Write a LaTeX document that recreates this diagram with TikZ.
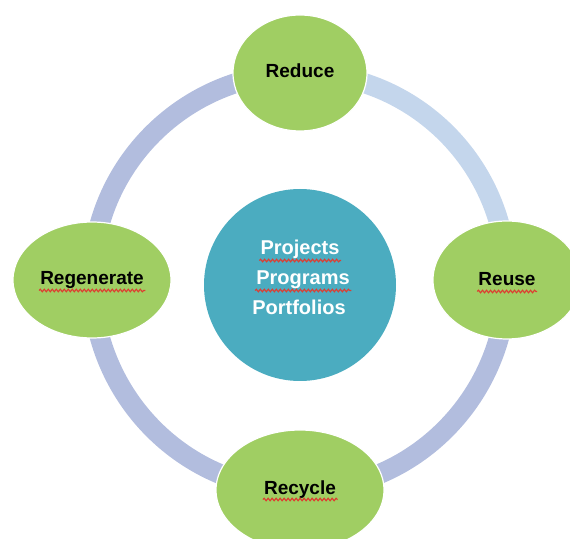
\documentclass[tikz,border=0pt]{standalone}
\usepackage{fontspec}
\setmainfont{Liberation Sans}
\usepackage{tikz}
\usetikzlibrary{shapes}
\usetikzlibrary{backgrounds,decorations.pathmorphing}
\definecolor{leafgreen}{RGB}{160,206,99}
\definecolor{hubteal}{RGB}{75,172,192}
\definecolor{ringpale}{RGB}{196,214,236}
\definecolor{ringblue}{RGB}{178,189,222}
\definecolor{typored}{RGB}{222,60,48}

\tikzset{
	word/.style={inner sep=0pt,anchor=base,font=\fontsize{19}{22}\selectfont\bfseries},
	hubword/.style={word,text=white,font=\fontsize{20}{24}\selectfont\bfseries},
	squiggle/.style={typored,line width=1.1pt,decorate,
	                 decoration={snake,amplitude=1.3pt,segment length=4pt}}
}
% red wavy line under a word node
\newcommand{\flag}[1]{\draw[squiggle] ([xshift=-1pt,yshift=-5.5pt]#1.base west) -- ([xshift=1.5pt,yshift=-5.5pt]#1.base east);}

\begin{document}
\begin{tikzpicture}[x=1pt,y=1pt]
	\useasboundingbox (0,0) rectangle (570,538);

	\begin{scope}[every node/.style={fill=leafgreen,ellipse,draw=white,line width=1.2pt,inner sep=0pt}]
	    \node[minimum width=134,minimum height=116] (reduce) at (300,465) {};
	    \node[minimum width=148,minimum height=118] (reuse) at (507,258) {};
	    \node[minimum width=168,minimum height=120] (recycle) at (300,48) {};
	    \node[minimum width=158,minimum height=116] (regenerate) at (92,258) {};
	\end{scope}
	\node[circle,fill=hubteal,minimum size=192,inner sep=0pt] (hub) at (300,253) {};

	\begin{scope}[on background layer,
	              every edge/.style={draw,line width=20pt}]
    	\path (reduce.center) edge[out=0,in=90,ringpale] (reuse.center);
    	\path (reuse.center) edge[out=-90,in=0,ringblue] (recycle.center);
    	\path (recycle.center) edge[out=180,in=-90,ringblue] (regenerate.center);
    	\path (regenerate.center) edge[out=90,in=180,ringblue] (reduce.center);
	\end{scope}

	% labels
	\node[word] (reduce-w) at (300,460) {Reduce};
	\node[word] (reuse-w) at (507,252) {Reuse};
	\node[word] (recycle-w) at (300,44) {Recycle};
	\node[word] (regenerate-w) at (92,253) {Regenerate};
	\node[hubword] (projects) at (300,283) {Projects};
	\node[hubword] (programs) at (303,253) {Programs};
	\node[hubword] (portfolios) at (299,223) {Portfolios};

	\flag{reuse-w}
	\flag{recycle-w}
	\flag{regenerate-w}
	\flag{projects}
	\flag{programs}
\end{tikzpicture}
\end{document}
